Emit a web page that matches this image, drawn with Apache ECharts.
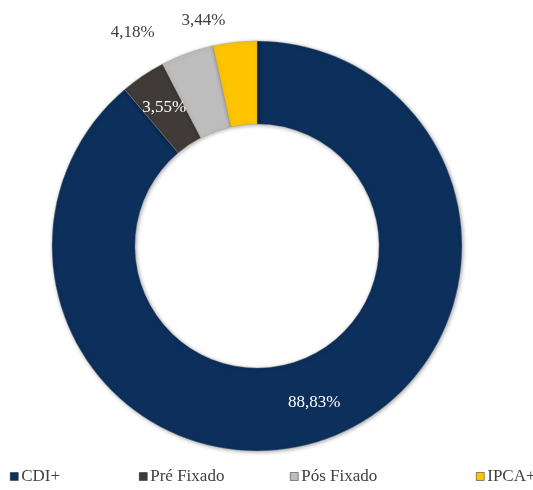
<!DOCTYPE html>
<html><head><meta charset="utf-8">
<script src="https://cdn.jsdelivr.net/npm/echarts@6/dist/echarts.min.js"></script>
<style>html,body{margin:0;padding:0;background:#fff}#c{width:533px;height:490px}</style>
</head><body><div id="c"></div>
<script>
const categories = ['CDI+', 'Pré Fixado', 'Pós Fixado', 'IPCA+'];
const values = [88.83, 3.55, 4.18, 3.44];
const colors = ['#0c2f5b', '#403b38', '#bdbdbd', '#ffc400'];
const labelPos = ['inside', 'inside', 'outside', 'outside'];
const labelColors = ['#ffffff', '#ffffff', '#404040', '#404040'];
const lineLen = [[0,0],[0,0],[22,20],[22,2]];

const FONT = 'Liberation Serif';
const chart = echarts.init(document.getElementById('c'));
const data = categories.map((n, i) => ({
  name: n, value: values[i],
  itemStyle: { color: colors[i] },
  label: { position: labelPos[i], color: labelColors[i] },
  labelLine: { show: false, length: lineLen[i][0], length2: lineLen[i][1] }
}));
const legendLefts = [10, 139, 290, 476];
chart.setOption({
  animation: false,
  legend: categories.map((n, i) => ({
    data: [n], left: legendLefts[i], top: 468, padding: 0, icon: 'rect', itemWidth: 8, itemHeight: 8, itemGap: 0,
    itemStyle: { borderWidth: 0.5, borderColor: '#222' },
    textStyle: { fontFamily: FONT, fontSize: 17, color: '#404040', padding: [0,0,0,-2] }
  })),
  series: [{
    type: 'pie', center: [257, 246], radius: [122, 205], startAngle: 90, clockwise: true,
    avoidLabelOverlap: false,
    itemStyle: { borderColor: 'rgba(150,150,150,0.6)', borderWidth: 0.6, shadowBlur: 4, shadowColor: 'rgba(0,0,0,0.35)', shadowOffsetX: 1, shadowOffsetY: 1 },
    label: { show: true, fontFamily: FONT, fontSize: 17,
      formatter: p => p.value.toFixed(2).replace('.', ',') + '%' },
    emphasis: { disabled: true },
    data: data
  }]
});
</script></body></html>
